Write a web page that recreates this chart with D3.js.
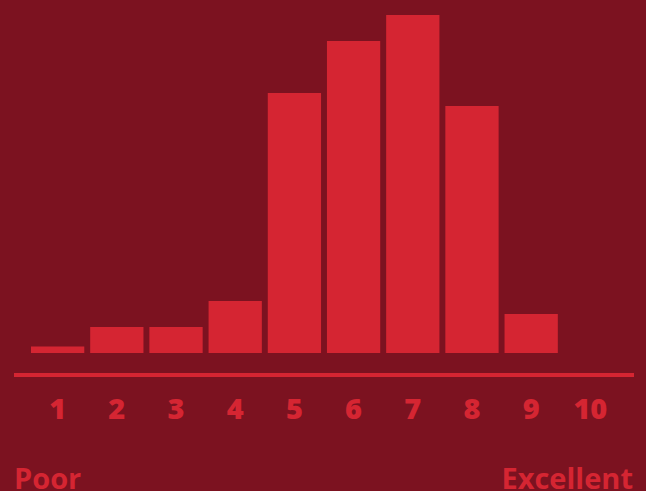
<!DOCTYPE html>
<html>
<head>
<meta charset="utf-8">
<script src="https://cdn.jsdelivr.net/npm/d3@7"></script>
<style>
  html, body { margin: 0; padding: 0; background: #7c1220; overflow: hidden; }
  svg { display: block; }
  text { font-family: "Open Sans", Lato, sans-serif; font-weight: 700; }
</style>
</head>
<body>
<svg id="chart" width="646" height="491"></svg>
<script>
// Rating scale 1–10 and share of responses (percent) for each score
const ratings = ["1", "2", "3", "4", "5", "6", "7", "8", "9", "10"];
const shares = [0.5, 2, 2, 4, 20, 24, 26, 19, 3, 0];
const endLabels = ["Poor", "Excellent"];

const bg = "#7c1220";
const red = "#d52532";
const fontStack = "'Open Sans', Lato, sans-serif";

const svg = d3.select("#chart");
svg.append("rect").attr("width", 646).attr("height", 491).attr("fill", bg);

const x = d3.scaleBand()
  .domain(ratings)
  .range([31, 617])
  .paddingInner(0.1)
  .paddingOuter(0);

const y = d3.scaleLinear()
  .domain([0, 26])
  .range([353, 15]);

// bars
svg.append("g")
  .selectAll("rect")
  .data(ratings.map((r, i) => ({ r, v: shares[i] })))
  .join("rect")
  .attr("x", d => x(d.r))
  .attr("y", d => y(d.v))
  .attr("width", x.bandwidth())
  .attr("height", d => y(0) - y(d.v))
  .attr("fill", red);

// baseline rule
svg.append("rect")
  .attr("x", 14)
  .attr("y", 373)
  .attr("width", 620)
  .attr("height", 4)
  .attr("fill", red);

// score labels via a bottom axis with the domain line and ticks hidden
const axis = svg.append("g")
  .attr("transform", "translate(0,378)")
  .call(d3.axisBottom(x).tickSize(0).tickPadding(0));
axis.select(".domain").remove();
axis.selectAll("text")
  .attr("dy", null)
  .attr("y", 41)
  .attr("fill", red)
  .attr("font-size", 29)
  .style("font-family", fontStack)
  .style("font-weight", 800);

// end-of-scale labels
svg.append("text")
  .attr("x", 14)
  .attr("y", 489)
  .attr("fill", red)
  .attr("font-size", 29)
  .style("font-weight", 700)
  .text(endLabels[0]);

svg.append("text")
  .attr("x", 633)
  .attr("y", 489)
  .attr("text-anchor", "end")
  .attr("fill", red)
  .attr("font-size", 29)
  .style("font-weight", 700)
  .text(endLabels[1]);
</script>
</body>
</html>
